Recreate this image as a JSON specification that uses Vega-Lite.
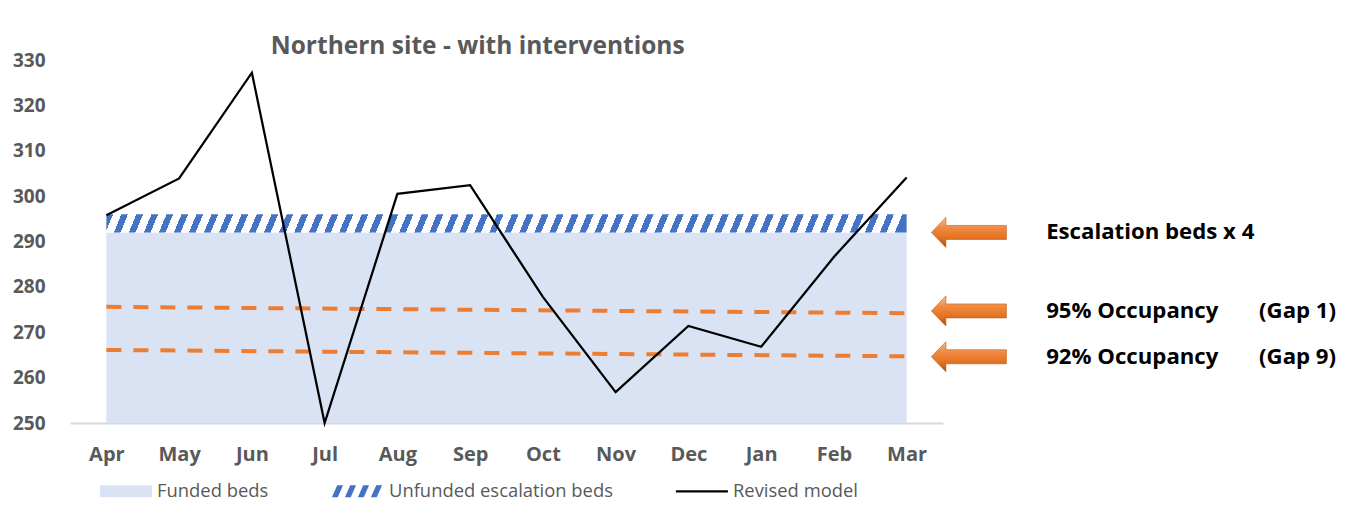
{
  "$schema": "https://vega.github.io/schema/vega-lite/v6.json",
  "background": "white",
  "padding": {"left": 12, "top": 33, "right": 0, "bottom": 0},
  "spacing": 0,
  "bounds": "flush",
  "resolve": {"scale": {"color": "independent", "shape": "independent"}, "legend": {"color": "independent", "shape": "independent"}},
  "config": {
    "view": {"stroke": null},
    "font": "Open Sans",
    "axis": {"grid": false, "ticks": false, "title": null},
    "legend": {
      "orient": "bottom",
      "direction": "horizontal",
      "offset": 14,
      "labelFont": "Open Sans",
      "labelFontSize": 18.4,
      "labelColor": "#595959",
      "labelLimit": 400,
      "labelOffset": 61,
      "columnPadding": 33,
      "symbolSize": 676,
      "symbolOpacity": 1,
      "symbolStrokeWidth": 0
    }
  },
  "datasets": {
    "monthly": [
      {"month": "Apr", "funded": 292, "withEscalation": 296, "model": 295.8},
      {"month": "May", "funded": 292, "withEscalation": 296, "model": 303.9},
      {"month": "Jun", "funded": 292, "withEscalation": 296, "model": 327.2},
      {"month": "Jul", "funded": 292, "withEscalation": 296, "model": 250.0},
      {"month": "Aug", "funded": 292, "withEscalation": 296, "model": 300.5},
      {"month": "Sep", "funded": 292, "withEscalation": 296, "model": 302.4},
      {"month": "Oct", "funded": 292, "withEscalation": 296, "model": 277.8},
      {"month": "Nov", "funded": 292, "withEscalation": 296, "model": 256.8},
      {"month": "Dec", "funded": 292, "withEscalation": 296, "model": 271.4},
      {"month": "Jan", "funded": 292, "withEscalation": 296, "model": 266.8},
      {"month": "Feb", "funded": 292, "withEscalation": 296, "model": 286.6},
      {"month": "Mar", "funded": 292, "withEscalation": 296, "model": 304.1}
    ],
    "occupancy": [
      {"month": "Apr", "level": "95% Occupancy", "beds": 275.6},
      {"month": "Mar", "level": "95% Occupancy", "beds": 274.2},
      {"month": "Apr", "level": "92% Occupancy", "beds": 266.1},
      {"month": "Mar", "level": "92% Occupancy", "beds": 264.7}
    ],
    "series": [
      {"series": "Funded beds"},
      {"series": "Unfunded escalation beds"},
      {"series": "Revised model"}
    ],
    "notes": [
      {"note": "Escalation beds x 4", "gap": "", "beds": 292.0},
      {"note": "95% Occupancy", "gap": "(Gap 1)", "beds": 274.7},
      {"note": "92% Occupancy", "gap": "(Gap 9)", "beds": 264.6}
    ]
  },
  "hconcat": [
    {
      "width": 873,
      "height": 363,
      "title": {
        "text": "Northern site - with interventions",
        "font": "Open Sans",
        "fontSize": 24.5,
        "fontWeight": "bold",
        "color": "#595959",
        "anchor": "middle",
        "frame": "bounds",
        "offset": -8
      },
      "data": {"name": "monthly"},
      "layer": [
        {
          "mark": {"type": "area", "clip": true, "opacity": 1, "fill": "#DAE3F3"},
          "encoding": {
            "x": {
              "field": "month",
              "type": "ordinal",
              "sort": null,
              "scale": {
                "type": "point",
                "padding": 0.5,
                "domain": ["Apr", "May", "Jun", "Jul", "Aug", "Sep", "Oct", "Nov", "Dec", "Jan", "Feb", "Mar"]
              },
              "axis": {
                "labelAngle": 0,
                "labelFont": "Open Sans",
                "labelFontSize": 20,
                "labelFontWeight": "bold",
                "labelColor": "#595959",
                "labelPadding": 21,
                "domainColor": "#D9D9D9",
                "domainWidth": 2
              }
            },
            "y": {
              "field": "funded",
              "type": "quantitative",
              "scale": {"domain": [250, 330], "nice": false, "zero": false},
              "axis": {
                "values": [250, 260, 270, 280, 290, 300, 310, 320, 330],
                "domain": false,
                "labelFont": "Open Sans",
                "labelFontSize": 19,
                "labelFontWeight": "bold",
                "labelColor": "#595959",
                "labelPadding": 25
              }
            },
            "y2": {"datum": 0}
          }
        },
        {
          "mark": {
            "type": "area",
            "opacity": 1,
            "fill": {
              "gradient": "linear",
              "x1": 0, "y1": 0, "x2": 1, "y2": 0.0094,
              "stops": [
                {"offset": 0, "color": "#4472C4"}, {"offset": 0.0083, "color": "#4472C4"}, {"offset": 0.0083, "color": "#FFFFFF"}, {"offset": 0.0188, "color": "#FFFFFF"},
                {"offset": 0.0188, "color": "#4472C4"}, {"offset": 0.0270, "color": "#4472C4"}, {"offset": 0.0270, "color": "#FFFFFF"}, {"offset": 0.0375, "color": "#FFFFFF"},
                {"offset": 0.0375, "color": "#4472C4"}, {"offset": 0.0458, "color": "#4472C4"}, {"offset": 0.0458, "color": "#FFFFFF"}, {"offset": 0.0563, "color": "#FFFFFF"},
                {"offset": 0.0563, "color": "#4472C4"}, {"offset": 0.0646, "color": "#4472C4"}, {"offset": 0.0646, "color": "#FFFFFF"}, {"offset": 0.0751, "color": "#FFFFFF"},
                {"offset": 0.0751, "color": "#4472C4"}, {"offset": 0.0833, "color": "#4472C4"}, {"offset": 0.0833, "color": "#FFFFFF"}, {"offset": 0.0938, "color": "#FFFFFF"},
                {"offset": 0.0938, "color": "#4472C4"}, {"offset": 0.1021, "color": "#4472C4"}, {"offset": 0.1021, "color": "#FFFFFF"}, {"offset": 0.1126, "color": "#FFFFFF"},
                {"offset": 0.1126, "color": "#4472C4"}, {"offset": 0.1209, "color": "#4472C4"}, {"offset": 0.1209, "color": "#FFFFFF"}, {"offset": 0.1314, "color": "#FFFFFF"},
                {"offset": 0.1314, "color": "#4472C4"}, {"offset": 0.1396, "color": "#4472C4"}, {"offset": 0.1396, "color": "#FFFFFF"}, {"offset": 0.1501, "color": "#FFFFFF"},
                {"offset": 0.1501, "color": "#4472C4"}, {"offset": 0.1584, "color": "#4472C4"}, {"offset": 0.1584, "color": "#FFFFFF"}, {"offset": 0.1689, "color": "#FFFFFF"},
                {"offset": 0.1689, "color": "#4472C4"}, {"offset": 0.1772, "color": "#4472C4"}, {"offset": 0.1772, "color": "#FFFFFF"}, {"offset": 0.1877, "color": "#FFFFFF"},
                {"offset": 0.1877, "color": "#4472C4"}, {"offset": 0.1959, "color": "#4472C4"}, {"offset": 0.1959, "color": "#FFFFFF"}, {"offset": 0.2064, "color": "#FFFFFF"},
                {"offset": 0.2064, "color": "#4472C4"}, {"offset": 0.2147, "color": "#4472C4"}, {"offset": 0.2147, "color": "#FFFFFF"}, {"offset": 0.2252, "color": "#FFFFFF"},
                {"offset": 0.2252, "color": "#4472C4"}, {"offset": 0.2335, "color": "#4472C4"}, {"offset": 0.2335, "color": "#FFFFFF"}, {"offset": 0.2440, "color": "#FFFFFF"},
                {"offset": 0.2440, "color": "#4472C4"}, {"offset": 0.2522, "color": "#4472C4"}, {"offset": 0.2522, "color": "#FFFFFF"}, {"offset": 0.2627, "color": "#FFFFFF"},
                {"offset": 0.2627, "color": "#4472C4"}, {"offset": 0.2710, "color": "#4472C4"}, {"offset": 0.2710, "color": "#FFFFFF"}, {"offset": 0.2815, "color": "#FFFFFF"},
                {"offset": 0.2815, "color": "#4472C4"}, {"offset": 0.2898, "color": "#4472C4"}, {"offset": 0.2898, "color": "#FFFFFF"}, {"offset": 0.3003, "color": "#FFFFFF"},
                {"offset": 0.3003, "color": "#4472C4"}, {"offset": 0.3085, "color": "#4472C4"}, {"offset": 0.3085, "color": "#FFFFFF"}, {"offset": 0.3190, "color": "#FFFFFF"},
                {"offset": 0.3190, "color": "#4472C4"}, {"offset": 0.3273, "color": "#4472C4"}, {"offset": 0.3273, "color": "#FFFFFF"}, {"offset": 0.3378, "color": "#FFFFFF"},
                {"offset": 0.3378, "color": "#4472C4"}, {"offset": 0.3461, "color": "#4472C4"}, {"offset": 0.3461, "color": "#FFFFFF"}, {"offset": 0.3566, "color": "#FFFFFF"},
                {"offset": 0.3566, "color": "#4472C4"}, {"offset": 0.3648, "color": "#4472C4"}, {"offset": 0.3648, "color": "#FFFFFF"}, {"offset": 0.3753, "color": "#FFFFFF"},
                {"offset": 0.3753, "color": "#4472C4"}, {"offset": 0.3836, "color": "#4472C4"}, {"offset": 0.3836, "color": "#FFFFFF"}, {"offset": 0.3941, "color": "#FFFFFF"},
                {"offset": 0.3941, "color": "#4472C4"}, {"offset": 0.4024, "color": "#4472C4"}, {"offset": 0.4024, "color": "#FFFFFF"}, {"offset": 0.4129, "color": "#FFFFFF"},
                {"offset": 0.4129, "color": "#4472C4"}, {"offset": 0.4211, "color": "#4472C4"}, {"offset": 0.4211, "color": "#FFFFFF"}, {"offset": 0.4316, "color": "#FFFFFF"},
                {"offset": 0.4316, "color": "#4472C4"}, {"offset": 0.4399, "color": "#4472C4"}, {"offset": 0.4399, "color": "#FFFFFF"}, {"offset": 0.4504, "color": "#FFFFFF"},
                {"offset": 0.4504, "color": "#4472C4"}, {"offset": 0.4587, "color": "#4472C4"}, {"offset": 0.4587, "color": "#FFFFFF"}, {"offset": 0.4692, "color": "#FFFFFF"},
                {"offset": 0.4692, "color": "#4472C4"}, {"offset": 0.4774, "color": "#4472C4"}, {"offset": 0.4774, "color": "#FFFFFF"}, {"offset": 0.4879, "color": "#FFFFFF"},
                {"offset": 0.4879, "color": "#4472C4"}, {"offset": 0.4962, "color": "#4472C4"}, {"offset": 0.4962, "color": "#FFFFFF"}, {"offset": 0.5067, "color": "#FFFFFF"},
                {"offset": 0.5067, "color": "#4472C4"}, {"offset": 0.5150, "color": "#4472C4"}, {"offset": 0.5150, "color": "#FFFFFF"}, {"offset": 0.5254, "color": "#FFFFFF"},
                {"offset": 0.5254, "color": "#4472C4"}, {"offset": 0.5337, "color": "#4472C4"}, {"offset": 0.5337, "color": "#FFFFFF"}, {"offset": 0.5442, "color": "#FFFFFF"},
                {"offset": 0.5442, "color": "#4472C4"}, {"offset": 0.5525, "color": "#4472C4"}, {"offset": 0.5525, "color": "#FFFFFF"}, {"offset": 0.5630, "color": "#FFFFFF"},
                {"offset": 0.5630, "color": "#4472C4"}, {"offset": 0.5712, "color": "#4472C4"}, {"offset": 0.5712, "color": "#FFFFFF"}, {"offset": 0.5817, "color": "#FFFFFF"},
                {"offset": 0.5817, "color": "#4472C4"}, {"offset": 0.5900, "color": "#4472C4"}, {"offset": 0.5900, "color": "#FFFFFF"}, {"offset": 0.6005, "color": "#FFFFFF"},
                {"offset": 0.6005, "color": "#4472C4"}, {"offset": 0.6088, "color": "#4472C4"}, {"offset": 0.6088, "color": "#FFFFFF"}, {"offset": 0.6193, "color": "#FFFFFF"},
                {"offset": 0.6193, "color": "#4472C4"}, {"offset": 0.6275, "color": "#4472C4"}, {"offset": 0.6275, "color": "#FFFFFF"}, {"offset": 0.6380, "color": "#FFFFFF"},
                {"offset": 0.6380, "color": "#4472C4"}, {"offset": 0.6463, "color": "#4472C4"}, {"offset": 0.6463, "color": "#FFFFFF"}, {"offset": 0.6568, "color": "#FFFFFF"},
                {"offset": 0.6568, "color": "#4472C4"}, {"offset": 0.6651, "color": "#4472C4"}, {"offset": 0.6651, "color": "#FFFFFF"}, {"offset": 0.6756, "color": "#FFFFFF"},
                {"offset": 0.6756, "color": "#4472C4"}, {"offset": 0.6838, "color": "#4472C4"}, {"offset": 0.6838, "color": "#FFFFFF"}, {"offset": 0.6943, "color": "#FFFFFF"},
                {"offset": 0.6943, "color": "#4472C4"}, {"offset": 0.7026, "color": "#4472C4"}, {"offset": 0.7026, "color": "#FFFFFF"}, {"offset": 0.7131, "color": "#FFFFFF"},
                {"offset": 0.7131, "color": "#4472C4"}, {"offset": 0.7214, "color": "#4472C4"}, {"offset": 0.7214, "color": "#FFFFFF"}, {"offset": 0.7319, "color": "#FFFFFF"},
                {"offset": 0.7319, "color": "#4472C4"}, {"offset": 0.7401, "color": "#4472C4"}, {"offset": 0.7401, "color": "#FFFFFF"}, {"offset": 0.7506, "color": "#FFFFFF"},
                {"offset": 0.7506, "color": "#4472C4"}, {"offset": 0.7589, "color": "#4472C4"}, {"offset": 0.7589, "color": "#FFFFFF"}, {"offset": 0.7694, "color": "#FFFFFF"},
                {"offset": 0.7694, "color": "#4472C4"}, {"offset": 0.7777, "color": "#4472C4"}, {"offset": 0.7777, "color": "#FFFFFF"}, {"offset": 0.7882, "color": "#FFFFFF"},
                {"offset": 0.7882, "color": "#4472C4"}, {"offset": 0.7964, "color": "#4472C4"}, {"offset": 0.7964, "color": "#FFFFFF"}, {"offset": 0.8069, "color": "#FFFFFF"},
                {"offset": 0.8069, "color": "#4472C4"}, {"offset": 0.8152, "color": "#4472C4"}, {"offset": 0.8152, "color": "#FFFFFF"}, {"offset": 0.8257, "color": "#FFFFFF"},
                {"offset": 0.8257, "color": "#4472C4"}, {"offset": 0.8340, "color": "#4472C4"}, {"offset": 0.8340, "color": "#FFFFFF"}, {"offset": 0.8445, "color": "#FFFFFF"},
                {"offset": 0.8445, "color": "#4472C4"}, {"offset": 0.8527, "color": "#4472C4"}, {"offset": 0.8527, "color": "#FFFFFF"}, {"offset": 0.8632, "color": "#FFFFFF"},
                {"offset": 0.8632, "color": "#4472C4"}, {"offset": 0.8715, "color": "#4472C4"}, {"offset": 0.8715, "color": "#FFFFFF"}, {"offset": 0.8820, "color": "#FFFFFF"},
                {"offset": 0.8820, "color": "#4472C4"}, {"offset": 0.8903, "color": "#4472C4"}, {"offset": 0.8903, "color": "#FFFFFF"}, {"offset": 0.9008, "color": "#FFFFFF"},
                {"offset": 0.9008, "color": "#4472C4"}, {"offset": 0.9090, "color": "#4472C4"}, {"offset": 0.9090, "color": "#FFFFFF"}, {"offset": 0.9195, "color": "#FFFFFF"},
                {"offset": 0.9195, "color": "#4472C4"}, {"offset": 0.9278, "color": "#4472C4"}, {"offset": 0.9278, "color": "#FFFFFF"}, {"offset": 0.9383, "color": "#FFFFFF"},
                {"offset": 0.9383, "color": "#4472C4"}, {"offset": 0.9466, "color": "#4472C4"}, {"offset": 0.9466, "color": "#FFFFFF"}, {"offset": 0.9571, "color": "#FFFFFF"},
                {"offset": 0.9571, "color": "#4472C4"}, {"offset": 0.9653, "color": "#4472C4"}, {"offset": 0.9653, "color": "#FFFFFF"}, {"offset": 0.9758, "color": "#FFFFFF"},
                {"offset": 0.9758, "color": "#4472C4"}, {"offset": 0.9841, "color": "#4472C4"}, {"offset": 0.9841, "color": "#FFFFFF"}, {"offset": 0.9946, "color": "#FFFFFF"},
                {"offset": 0.9946, "color": "#4472C4"}, {"offset": 1, "color": "#4472C4"}
              ]
            }
          },
          "encoding": {
            "x": {"field": "month", "type": "ordinal", "sort": null},
            "y": {"field": "withEscalation", "type": "quantitative"},
            "y2": {"field": "funded"}
          }
        },
        {
          "data": {"name": "occupancy"},
          "mark": {"type": "line", "color": "#ED7D31", "strokeWidth": 4, "strokeDash": [15, 12], "strokeCap": "butt"},
          "encoding": {
            "x": {"field": "month", "type": "ordinal", "sort": null},
            "y": {"field": "beds", "type": "quantitative"},
            "detail": {"field": "level", "type": "nominal"}
          }
        },
        {
          "mark": {"type": "line", "strokeWidth": 2.25, "color": "#000000"},
          "encoding": {
            "x": {"field": "month", "type": "ordinal", "sort": null},
            "y": {"field": "model", "type": "quantitative"}
          }
        },
        {
          "data": {"name": "series"},
          "mark": {"type": "point", "filled": true, "opacity": 0, "strokeWidth": 0},
          "encoding": {
            "color": {
              "field": "series",
              "type": "nominal",
              "scale": {
                "domain": ["Funded beds", "Unfunded escalation beds", "Revised model"],
                "range": ["#DAE3F3", "#4472C4", "#000000"]
              },
              "legend": {"title": null}
            },
            "shape": {
              "field": "series",
              "type": "nominal",
              "scale": {
                "domain": ["Funded beds", "Unfunded escalation beds", "Revised model"],
                "range": [
                  "M1.3,-0.46H5.3V0.46H1.3Z",
                  "M1.3,0.46L1.75,0.46L2.16,-0.46L1.71,-0.46ZM2.3,0.46L2.75,0.46L3.16,-0.46L2.71,-0.46ZM3.3,0.46L3.75,0.46L4.16,-0.46L3.71,-0.46ZM4.3,0.46L4.75,0.46L5.16,-0.46L4.71,-0.46Z",
                  "M1.3,-0.09H5.3V0.09H1.3Z"
                ]
              },
              "legend": {"title": null}
            }
          }
        }
      ]
    },
    {
      "width": 411,
      "height": 363,
      "data": {"name": "notes"},
      "encoding": {
        "y": {
          "field": "beds",
          "type": "quantitative",
          "scale": {"domain": [250, 330], "nice": false, "zero": false},
          "axis": null
        }
      },
      "layer": [
        {
          "mark": {
            "type": "point",
            "shape": "M-3.75,0L-2.3,-1.5L-2.3,-0.7L3.75,-0.7L3.75,0.7L-2.3,0.7L-2.3,1.5Z",
            "size": 400,
            "filled": true,
            "opacity": 1,
            "stroke": "#B85A18",
            "strokeWidth": 0.6,
            "fill": {
              "gradient": "linear",
              "x1": 0, "y1": 0, "x2": 0, "y2": 1,
              "stops": [
                {"offset": 0, "color": "#F7B98C"},
                {"offset": 0.35, "color": "#F08A42"},
                {"offset": 0.7, "color": "#E2711D"},
                {"offset": 1, "color": "#A94C0E"}
              ]
            }
          },
          "encoding": {
            "x": {"datum": 6.3, "type": "quantitative", "scale": {"domain": [0, 100]}, "axis": null}
          }
        },
        {
          "mark": {"type": "text", "align": "left", "baseline": "middle", "font": "Open Sans", "fontSize": 22.2, "fontWeight": "bold", "color": "#000000"},
          "encoding": {
            "x": {"datum": 25.1, "type": "quantitative"},
            "text": {"field": "note"}
          }
        },
        {
          "mark": {"type": "text", "align": "left", "baseline": "middle", "font": "Open Sans", "fontSize": 22.2, "fontWeight": "bold", "color": "#000000"},
          "encoding": {
            "x": {"datum": 76.9, "type": "quantitative"},
            "text": {"field": "gap"}
          }
        }
      ]
    }
  ]
}
